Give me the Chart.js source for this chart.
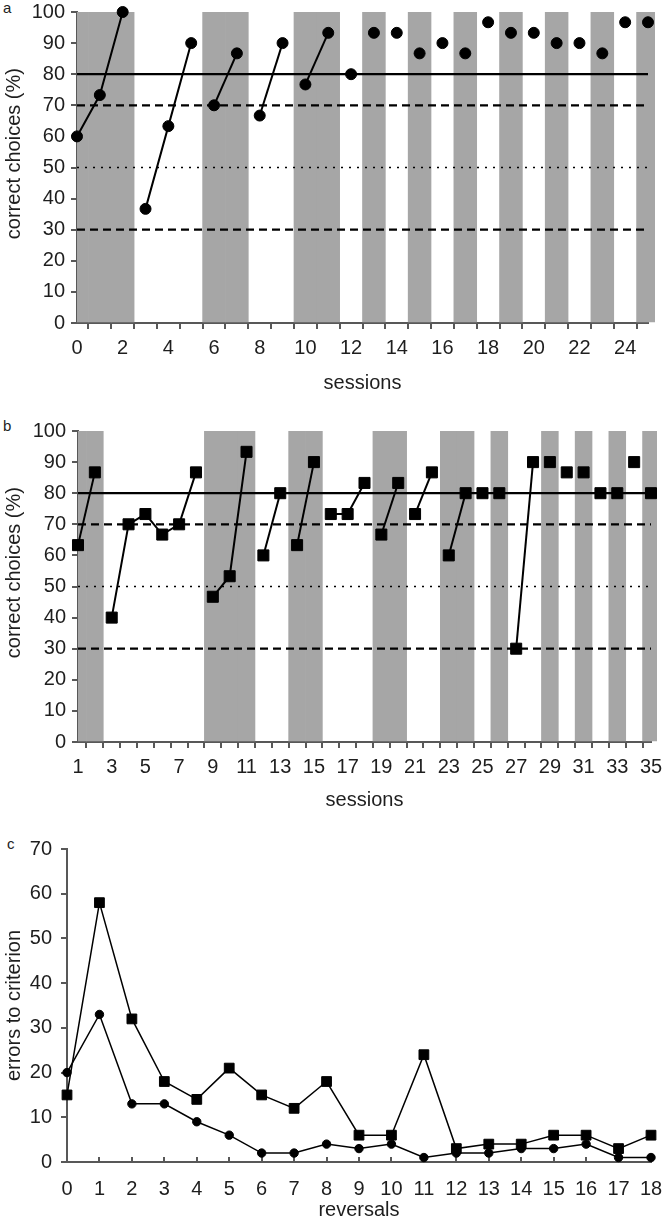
<!DOCTYPE html>
<html><head><meta charset="utf-8">
<script src="https://cdn.jsdelivr.net/npm/chart.js@4"></script>
<style>
html,body{margin:0;padding:0;background:#fff}
body{width:662px;height:1223px;position:relative;overflow:hidden;font-family:"Liberation Sans",Arial,sans-serif}
canvas{position:absolute;left:0}
.lab{position:absolute;font-size:15px;color:#222;line-height:1}
</style></head><body>
<div class="lab" style="left:3px;top:0px">a</div>
<div class="lab" style="left:3px;top:418px">b</div>
<div class="lab" style="left:7px;top:836px">c</div>
<canvas id="ca" width="662" height="410" style="top:0px"></canvas>
<canvas id="cb" width="662" height="410" style="top:419px"></canvas>
<canvas id="cc" width="662" height="387" style="top:836px"></canvas>
<script>
// ---------- Panel a ----------
const sessionsA = [0,1,2,3,4,5,6,7,8,9,10,11,12,13,14,15,16,17,18,19,20,21,22,23,24,25];
const correctA  = [60,73.3,100,36.7,63.3,90,70,86.7,66.7,90,76.7,93.3,80,93.3,93.3,86.7,90,86.7,96.7,93.3,93.3,90,90,86.7,96.7,96.7];
const linkedA   = [1,2,4,5,7,9,11];           // sessions joined by a line to the previous session
const shadedA   = [0,1,2,6,7,10,11,13,15,17,19,21,23,25];
// ---------- Panel b ----------
const sessionsB = [1,2,3,4,5,6,7,8,9,10,11,12,13,14,15,16,17,18,19,20,21,22,23,24,25,26,27,28,29,30,31,32,33,34,35];
const correctB  = [63.3,86.7,40,70,73.3,66.7,70,86.7,46.7,53.3,93.3,60,80,63.3,90,73.3,73.3,83.3,66.7,83.3,73.3,86.7,60,80,80,80,30,90,90,86.7,86.7,80,80,90,80];
const linkedB   = [2,4,5,6,7,8,10,11,13,15,17,18,20,22,24,28];
const shadedB   = [1,2,9,10,11,14,15,19,20,23,24,26,29,31,33,35];
// ---------- reference levels (panels a, b) ----------
const levelSolid  = [80];
const levelDashed = [70,30];
const levelDotted = [50];
// ---------- Panel c ----------
const reversals    = [0,1,2,3,4,5,6,7,8,9,10,11,12,13,14,15,16,17,18];
const errorsCircle = [20,33,13,13,9,6,2,2,4,3,4,1,2,2,3,3,4,1,1];
const errorsSquare = [15,58,32,18,14,21,15,12,18,6,6,24,3,4,4,6,6,3,6];

const FONT = '"Liberation Sans", Arial, sans-serif';
const AX = '#585858';
const TXT = '#1e1e1e';
const BAND = '#a6a6a6';
Chart.defaults.font.family = FONT;
Chart.defaults.color = TXT;
Chart.defaults.animation = false;

function fixY(w){ return s=>{ s.width=w; s.paddingTop=0; s.paddingBottom=0; }; }
function fixX(h){ return s=>{ s.height=h; s.paddingLeft=0; s.paddingRight=0; }; }

function levelSet(y, x0, x1, dash, w){
  return {type:'line', data:[{x:x0,y:y},{x:x1,y:y}], borderColor:'#000', borderWidth:w,
    borderDash:dash, pointRadius:0, order:5, fill:false};
}

function sessionPanel(id, sessions, values, linked, shaded, xmin, xmax, labelFn, yAxisW, padRight, titlePadB, marker, radius, clipR){
  const pts = sessions.map((s,i)=>({x:s, y:values[i]}));
  const datasets = [
    {type:'bar', data:shaded.map(s=>({x:s, y:[0,100]})), backgroundColor:BAND, borderWidth:0,
     barPercentage:1, categoryPercentage:1, order:10, clip:{left:0,top:0,right:clipR,bottom:0}},
  ];
  levelSolid.forEach(v=>datasets.push(levelSet(v,xmin,xmax,[],2.2)));
  levelDashed.forEach(v=>datasets.push(levelSet(v,xmin,xmax,[8,5],2.2)));
  levelDotted.forEach(v=>datasets.push(levelSet(v,xmin,xmax,[2,6],1.6)));
  datasets.push({type:'line', data:pts, borderColor:'#000', borderWidth:2,
    pointStyle:marker, pointRadius:radius, pointBackgroundColor:'#000', pointBorderColor:'#000', pointBorderWidth:1,
    order:0, fill:false, clip:8,
    segment:{borderColor: ctx => linked.includes(ctx.p1.parsed.x) ? '#000' : 'rgba(0,0,0,0)'}});
  return new Chart(document.getElementById(id), {
    type:'bar',
    data:{datasets},
    options:{
      responsive:false, devicePixelRatio:1,
      layout:{padding:{top:12,right:padRight,left:0,bottom:0}},
      plugins:{legend:{display:false}, tooltip:{enabled:false}},
      scales:{
        x:{type:'linear', min:xmin, max:xmax, offset:false,
           afterFit:fixX(87),
           grid:{drawOnChartArea:false, tickLength:6, color:AX, lineWidth:2},
           border:{color:AX, width:2},
           ticks:{stepSize:1, autoSkip:false, maxRotation:0, padding:7, font:{size:20}, color:TXT,
                  callback:v=>labelFn(v)?String(v):''},
           title:{display:true, text:'sessions', font:{size:20}, color:TXT, padding:{top:0,bottom:titlePadB}}},
        y:{type:'linear', min:0, max:100,
           afterFit:fixY(yAxisW),
           grid:{drawOnChartArea:false, tickLength:6, color:AX, lineWidth:2},
           border:{color:AX, width:2},
           ticks:{stepSize:10, padding:6, font:{size:20}, color:TXT},
           title:{display:true, text:'     correct choices (%)', font:{size:20}, color:TXT, padding:{top:2,bottom:0}}}
      }
    }
  });
}

sessionPanel('ca', sessionsA, correctA, linkedA, shadedA, 0, 25, v=>v%2===0, 77, 14, 15, 'circle', 5.5, 7);
sessionPanel('cb', sessionsB, correctB, linkedB, shadedB, 1, 35, v=>v%2===1, 78, 11, 17, 'rect', 7.8, 6);

// ---------- Panel c chart ----------
new Chart(document.getElementById('cc'), {
  type:'line',
  data:{datasets:[
    {data:reversals.map((r,i)=>({x:r,y:errorsSquare[i]})), borderColor:'#000', borderWidth:1.5,
     pointStyle:'rect', pointRadius:6.9, pointBackgroundColor:'#000', pointBorderColor:'#000', pointBorderWidth:1, fill:false, clip:8},
    {data:reversals.map((r,i)=>({x:r,y:errorsCircle[i]})), borderColor:'#000', borderWidth:1.5,
     pointStyle:'circle', pointRadius:4.2, pointBackgroundColor:'#000', pointBorderColor:'#000', pointBorderWidth:1, fill:false, clip:8}
  ]},
  options:{
    responsive:false, devicePixelRatio:1,
    layout:{padding:{top:13,right:11,left:0,bottom:0}},
    plugins:{legend:{display:false}, tooltip:{enabled:false}},
    scales:{
      x:{type:'linear', min:0, max:18,
         afterFit:fixX(61),
         grid:{drawOnChartArea:false, tickLength:-5, color:AX, lineWidth:2},
         border:{color:AX, width:2},
         ticks:{stepSize:1, autoSkip:false, maxRotation:0, padding:20, font:{size:20}, color:TXT},
         title:{display:true, text:'reversals', font:{size:20}, color:TXT, padding:{top:0,bottom:1}}},
      y:{type:'linear', min:0, max:70,
         afterFit:fixY(67),
         grid:{drawOnChartArea:false, tickLength:6, color:AX, lineWidth:2},
         border:{color:AX, width:2},
         ticks:{stepSize:10, padding:9, font:{size:20}, color:TXT},
         title:{display:true, text:'errors to criterion', font:{size:20}, color:TXT, padding:{top:2,bottom:0}}}
    }
  }
});
</script>
</body></html>
